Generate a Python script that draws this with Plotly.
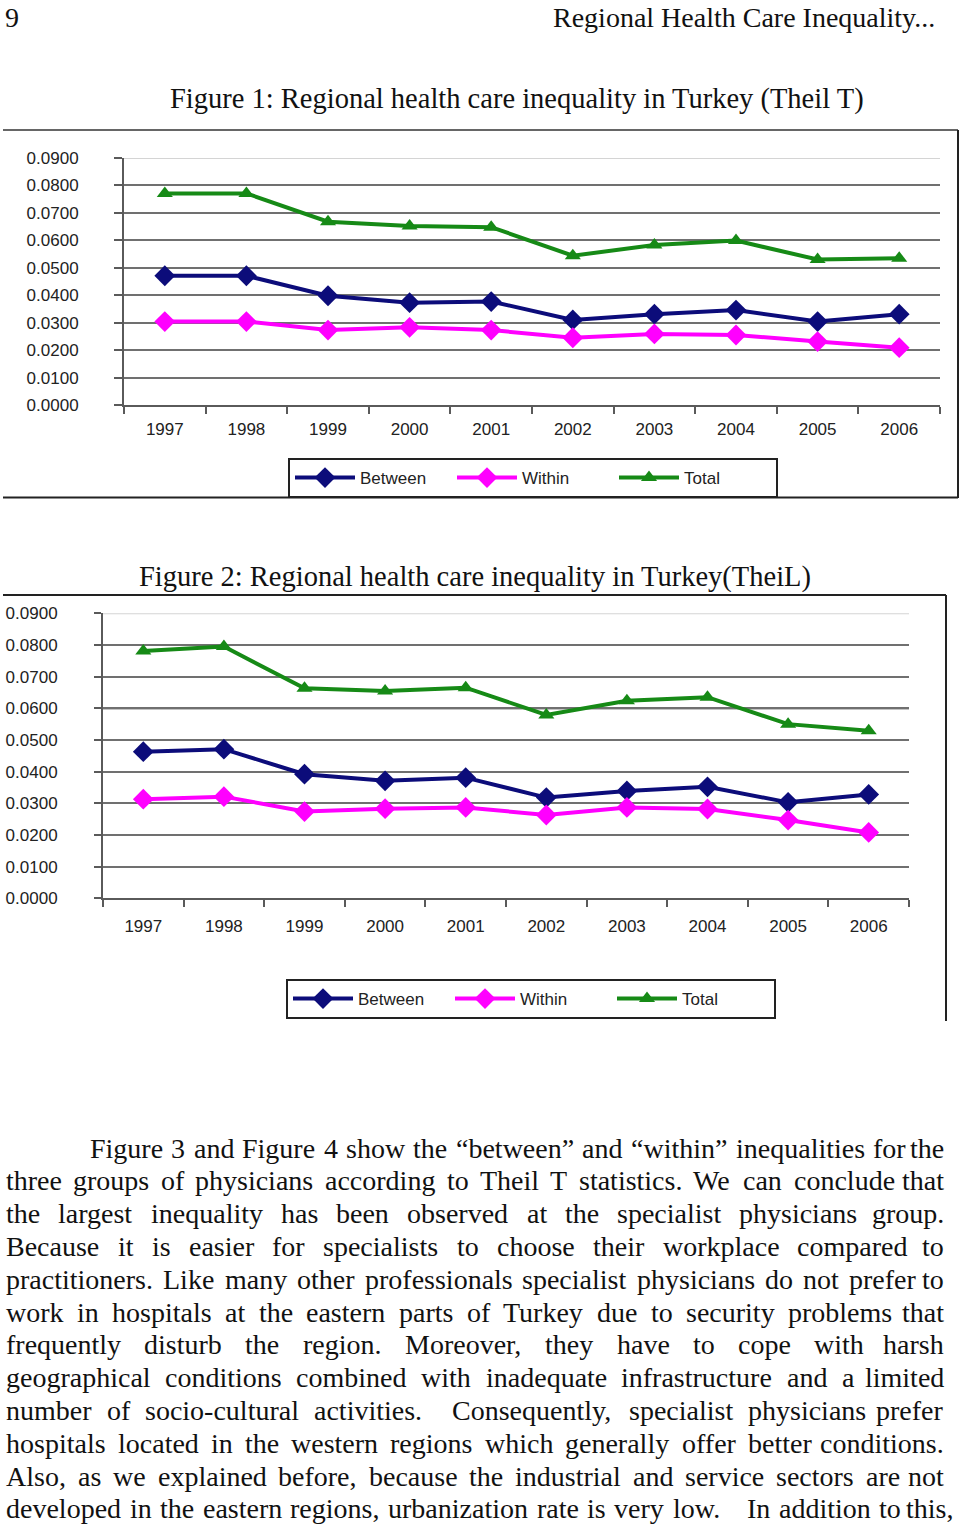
import re
import plotly.graph_objects as go

# ---------------- data ----------------
YEARS = ["1997", "1998", "1999", "2000", "2001", "2002", "2003", "2004", "2005", "2006"]

# Figure 1 (Theil T)
T_BETWEEN = [0.0471, 0.0471, 0.0398, 0.0373, 0.0377, 0.0310, 0.0331, 0.0346, 0.0304, 0.0331]
T_WITHIN = [0.0304, 0.0304, 0.0273, 0.0283, 0.0273, 0.0245, 0.0259, 0.0255, 0.0231, 0.0209]
T_TOTAL = [0.0771, 0.0771, 0.0668, 0.0652, 0.0648, 0.0544, 0.0583, 0.0599, 0.0530, 0.0535]

# Figure 2 (Theil L)
L_BETWEEN = [0.0463, 0.0471, 0.0392, 0.0371, 0.0381, 0.0318, 0.0339, 0.0352, 0.0303, 0.0328]
L_WITHIN = [0.0313, 0.0321, 0.0274, 0.0283, 0.0287, 0.0263, 0.0287, 0.0282, 0.0247, 0.0208]
L_TOTAL = [0.0781, 0.0795, 0.0663, 0.0655, 0.0665, 0.0579, 0.0624, 0.0635, 0.0550, 0.0529]

SERIES_NAMES = ["Between", "Within", "Total"]
Y_TICKS = [0.00, 0.01, 0.02, 0.03, 0.04, 0.05, 0.06, 0.07, 0.08, 0.09]
Y_TICK_TEXT = ["0.0000", "0.0100", "0.0200", "0.0300", "0.0400",
               "0.0500", "0.0600", "0.0700", "0.0800", "0.0900"]

HEADER_LEFT = "9"
HEADER_RIGHT = "Regional Health Care Inequality..."
TITLE_1 = "Figure 1: Regional health care inequality in Turkey (Theil T)"
TITLE_2 = "Figure 2: Regional health care inequality in Turkey(TheiL)"
BODY_LINES = [
    "Figure 3 and Figure 4 show the \u201cbetween\u201d and \u201cwithin\u201d inequalities for the",
    "three groups of physicians according to Theil T statistics. We can conclude that",
    "the largest inequality has been observed at the specialist physicians group.",
    "Because it is easier for specialists to choose their workplace compared to",
    "practitioners. Like many other professionals specialist physicians do not prefer to",
    "work in hospitals at the eastern parts of Turkey due to security problems that",
    "frequently disturb the region. Moreover, they have to cope with harsh",
    "geographical conditions combined with inadequate infrastructure and a limited",
    "number of socio-cultural activities.  Consequently, specialist physicians prefer",
    "hospitals located in the western regions which generally offer better conditions.",
    "Also, as we explained before, because the industrial and service sectors are not",
    "developed in the eastern regions, urbanization rate is very low.   In addition to this,",
]

# ---------------- styles ----------------
W, H = 960, 1527
C_BETWEEN = "#0c0c7a"
C_WITHIN = "#ff00ff"
C_TOTAL = "#168a16"
SANS = "Liberation Sans, Arial, sans-serif"
SERIF = "Liberation Serif, Times New Roman, serif"


def px(x):
    return x / W


def py(y):
    return 1 - y / H


fig = go.Figure()


def add_series(xa, ya, leg, between, within, total):
    specs = [
        (SERIES_NAMES[0], between, C_BETWEEN, "diamond", 16),
        (SERIES_NAMES[1], within, C_WITHIN, "diamond", 16),
        (SERIES_NAMES[2], total, C_TOTAL, "triangle-up", 14),
    ]
    for name, vals, col, sym, sz in specs:
        fig.add_trace(go.Scatter(
            x=YEARS, y=vals, name=name, mode="lines+markers",
            line=dict(color=col, width=4),
            marker=dict(color=col, symbol=sym, size=sz),
            xaxis=xa, yaxis=ya, legend=leg,
        ))


add_series("x", "y", "legend", T_BETWEEN, T_WITHIN, T_TOTAL)
add_series("x2", "y2", "legend2", L_BETWEEN, L_WITHIN, L_TOTAL)

axis_line = "#5a5a5a"


def xaxis_style(domain, anchor, standoff):
    return dict(
        domain=domain, anchor=anchor, type="category", range=[-0.5, 9.5],
        showline=True, linecolor=axis_line, linewidth=2,
        ticks="outside", tickson="boundaries", ticklen=7, tickwidth=2,
        tickcolor=axis_line, showgrid=False, zeroline=False,
        tickfont=dict(family=SANS, size=17, color="#222"),
        ticklabelstandoff=standoff, fixedrange=True,
    )


def yaxis_style(domain, anchor, standoff, ticklen):
    return dict(
        domain=domain, anchor=anchor, range=[0, 0.09],
        tickvals=Y_TICKS, ticktext=Y_TICK_TEXT,
        showline=True, linecolor=axis_line, linewidth=2,
        ticks="outside", ticklen=ticklen, tickwidth=2, tickcolor=axis_line,
        showgrid=True, gridcolor="#707070", gridwidth=2, zeroline=False,
        tickfont=dict(family=SANS, size=17, color="#222"),
        ticklabelstandoff=standoff, fixedrange=True,
    )


def legend_style(x, y):
    return dict(
        x=px(x), y=py(y), xanchor="left", yanchor="top",
        orientation="h", bgcolor="white", bordercolor="#222", borderwidth=2,
        font=dict(family=SANS, size=17, color="#222"), itemwidth=60,
        entrywidth=87,
    )


fig.update_layout(
    width=W, height=H,
    margin=dict(l=0, r=0, t=0, b=0, autoexpand=False),
    paper_bgcolor="white", plot_bgcolor="white",
    xaxis=xaxis_style([px(124), px(940)], "y", 8),
    yaxis=yaxis_style([py(405), py(158)], "x", 32, 8),
    xaxis2=xaxis_style([px(103), px(909)], "y2", 11),
    yaxis2=yaxis_style([py(898.3), py(613.3)], "x2", 33, 7),
    legend=legend_style(288, 458),
    legend2=legend_style(286, 979),
    showlegend=True,
)

shapes = []
# lighter top gridlines
shapes.append(dict(type="line", xref="x domain", yref="y", x0=0, x1=1, y0=Y_TICKS[-1], y1=Y_TICKS[-1],
                   line=dict(color="#d4d4d4", width=2)))
shapes.append(dict(type="line", xref="x2 domain", yref="y2", x0=0, x1=1, y0=Y_TICKS[-1], y1=Y_TICKS[-1],
                   line=dict(color="#d4d4d4", width=2)))
# darker gridlines on figure 2
for v in (Y_TICKS[6], Y_TICKS[2]):
    shapes.append(dict(type="line", xref="x2 domain", yref="y2", x0=0, x1=1, y0=v, y1=v,
                       line=dict(color="#111", width=2), layer="below"))
# chart frames
frame = dict(color="#222", width=2)
shapes += [
    dict(type="line", xref="paper", yref="paper", x0=px(3), x1=px(958), y0=py(130), y1=py(130),
         line=dict(color="#666", width=2)),
    dict(type="line", xref="paper", yref="paper", x0=px(958), x1=px(958), y0=py(130), y1=py(498), line=frame),
    dict(type="line", xref="paper", yref="paper", x0=px(3), x1=px(958), y0=py(497.5), y1=py(497.5), line=frame),
    dict(type="line", xref="paper", yref="paper", x0=px(3), x1=px(946), y0=py(595), y1=py(595), line=frame),
    dict(type="line", xref="paper", yref="paper", x0=px(946), x1=px(946), y0=py(595), y1=py(1021), line=frame),
]
fig.update_layout(shapes=shapes)

ann = []


def text_ann(text, x, y, anchor, size=28, yanchor="middle"):
    ann.append(dict(text=text, x=px(x), y=py(y), xref="paper", yref="paper",
                    xanchor=anchor, yanchor=yanchor, showarrow=False,
                    font=dict(family=SERIF, size=size, color="#111")))


text_ann(HEADER_LEFT, 3, 0, "left", 28, "top")
text_ann(HEADER_RIGHT, 937, 0, "right", 28, "top")
text_ann(TITLE_1, 517, 99, "center", 28.5)
text_ann(TITLE_2, 475, 577, "center", 28.5)

# Times-compatible advance widths (per 1000 em)
TW = {" ": 250, ".": 250, ",": 250, "-": 333, ":": 278, ";": 278, "(": 333, ")": 333,
      "\u201c": 444, "\u201d": 444, "'": 180}
for ch, w in zip("abcdefghijklmnopqrstuvwxyz",
                 [444, 500, 444, 500, 444, 333, 500, 500, 278, 278, 500, 278, 778,
                  500, 500, 500, 500, 333, 389, 278, 500, 500, 722, 500, 500, 444]):
    TW[ch] = w
for ch, w in zip("ABCDEFGHIJKLMNOPQRSTUVWXYZ",
                 [722, 667, 667, 722, 611, 556, 722, 722, 333, 389, 722, 611, 889,
                  722, 722, 556, 722, 667, 556, 611, 722, 722, 944, 722, 722, 611]):
    TW[ch] = w


def tw(s, size):
    return sum(TW.get(c, 500) for c in s) / 1000 * size


def justify(line, x0, x1, yc, size=28):
    parts = re.split(r"( +)", line)
    words = parts[0::2]
    gaps = [len(g) for g in parts[1::2]]
    widths = [tw(w, size) for w in words]
    spare = (x1 - x0) - sum(widths)
    unit = spare / sum(gaps)
    x = x0
    for i, (w, wd) in enumerate(zip(words, widths)):
        if i == len(words) - 1:
            text_ann(w, x1, yc, "right", size)
        else:
            text_ann(w, x, yc, "left", size)
            x += wd + unit * gaps[i]


BODY_Y0, BODY_DY = 1148, 32.8
for i, line in enumerate(BODY_LINES):
    x0 = 88 if i == 0 else 4
    x1 = 955 if i == len(BODY_LINES) - 1 else 946
    justify(line, x0, x1, BODY_Y0 + i * BODY_DY)

fig.update_layout(annotations=ann)

PAGE_FIX = """
var hs = document.documentElement.style;
hs.margin = '0'; hs.padding = '0'; hs.overflow = 'hidden'; hs.height = '1527px';
var bs = document.body.style;
bs.margin = '0'; bs.padding = '0'; bs.overflow = 'hidden'; bs.height = '1527px';
bs.fontSize = '0'; bs.lineHeight = '0';
var gd = document.getElementById('{plot_id}');
gd.style.position = 'absolute'; gd.style.top = '0px'; gd.style.left = '0px';
"""

fig.write_html(
    "out.html",
    config={"displayModeBar": False, "staticPlot": True},
    post_script=PAGE_FIX,
)
